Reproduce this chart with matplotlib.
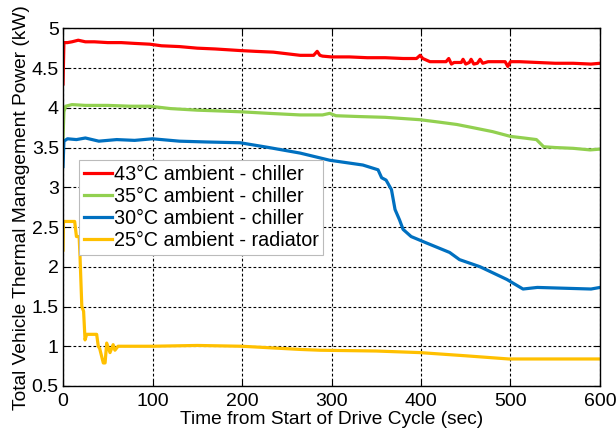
import matplotlib
matplotlib.use("Agg")
import matplotlib.pyplot as plt

plt.rcParams['font.family'] = ['Liberation Sans', 'DejaVu Sans']

# Red: 43°C ambient - chiller
t_red = [0, 1, 5, 10, 17, 25, 35, 50, 65, 80, 97, 110, 130, 150, 170, 198, 215, 235, 250,
         265, 280, 284, 287, 290, 300, 320, 340, 360, 380, 395, 399, 402, 410, 420, 428,
         431, 434, 437, 445, 447, 450, 454, 456, 459, 463, 466, 469, 475, 485, 494, 497,
         500, 510, 530, 550, 570, 590, 600]
p_red = [4.30, 4.82, 4.82, 4.83, 4.85, 4.83, 4.83, 4.82, 4.82, 4.81, 4.80, 4.78, 4.77,
         4.75, 4.74, 4.72, 4.71, 4.70, 4.68, 4.66, 4.66, 4.71, 4.66, 4.65, 4.64, 4.64,
         4.63, 4.63, 4.62, 4.62, 4.66, 4.62, 4.58, 4.58, 4.58, 4.62, 4.55, 4.57, 4.57,
         4.61, 4.55, 4.57, 4.61, 4.55, 4.56, 4.61, 4.56, 4.58, 4.58, 4.58, 4.52, 4.58,
         4.58, 4.57, 4.56, 4.56, 4.55, 4.56]

# Green: 35°C ambient - chiller
t_green = [0, 1, 3, 10, 25, 50, 75, 97, 120, 150, 175, 198, 230, 265, 290, 298, 305, 330,
           360, 399, 420, 440, 458, 480, 500, 515, 529, 537, 550, 570, 589, 600]
p_green = [3.62, 3.95, 4.02, 4.04, 4.03, 4.03, 4.02, 4.02, 3.99, 3.97, 3.96, 3.95, 3.93,
           3.91, 3.91, 3.93, 3.90, 3.89, 3.88, 3.85, 3.82, 3.79, 3.75, 3.70, 3.64, 3.62,
           3.60, 3.51, 3.50, 3.49, 3.47, 3.48]

# Blue: 30°C ambient - chiller
t_blue = [0, 1, 5, 15, 25, 40, 60, 80, 100, 130, 160, 198, 230, 265, 298, 335, 352, 356,
          361, 367, 371, 376, 380, 389, 406, 432, 443, 466, 496, 508, 514, 530, 560, 590, 600]
p_blue = [3.26, 3.58, 3.61, 3.60, 3.62, 3.58, 3.60, 3.59, 3.61, 3.58, 3.57, 3.56, 3.50,
          3.43, 3.34, 3.28, 3.22, 3.12, 3.09, 2.97, 2.72, 2.59, 2.47, 2.38, 2.30, 2.18,
          2.09, 2.00, 1.84, 1.76, 1.72, 1.74, 1.73, 1.72, 1.74]

# Yellow: 25°C ambient - radiator
t_yel = [0, 0.5, 13, 15, 18, 19, 21, 23, 24.6, 26.4, 37.6, 39.4, 41, 45, 47, 48.8, 52.5,
         56, 58, 61.5, 65, 100, 150, 200, 265, 287, 350, 399, 450, 498, 550, 600]
p_yel = [2.21, 2.57, 2.57, 2.38, 2.38, 2.13, 1.50, 1.44, 1.08, 1.15, 1.15, 1.00, 0.97,
         0.79, 0.79, 1.04, 0.92, 1.02, 0.95, 1.00, 1.00, 1.00, 1.01, 1.00, 0.96, 0.95,
         0.94, 0.92, 0.88, 0.84, 0.84, 0.84]

labels = ['43°C ambient - chiller', '35°C ambient - chiller',
          '30°C ambient - chiller', '25°C ambient - radiator']
colors = ['#FF0000', '#92D050', '#0070C0', '#FFC000']
xticks = [0, 100, 200, 300, 400, 500, 600]
yticks = [0.5, 1, 1.5, 2, 2.5, 3, 3.5, 4, 4.5, 5]
ytick_labels = ['0.5', '1', '1.5', '2', '2.5', '3', '3.5', '4', '4.5', '5']

fig = plt.figure(figsize=(6.16, 4.34), dpi=100)
ax = fig.add_axes([0.1023, 0.1106, 0.8717, 0.8242])

series = [(t_red, p_red), (t_green, p_green), (t_blue, p_blue), (t_yel, p_yel)]
for (t, p), c, lab in zip(series, colors, labels):
    ax.plot(t, p, color=c, lw=2.3, label=lab, solid_joinstyle='round')

ax.set_xlim(0, 600)
ax.set_ylim(0.5, 5)
ax.set_xticks(xticks)
ax.set_yticks(yticks)
ax.set_yticklabels(ytick_labels)
ax.tick_params(direction='in', labelsize=14, length=4, width=0.8, top=True, right=True)
ax.tick_params(axis='x', pad=5)
ax.tick_params(axis='y', pad=3)
ax.grid(True, color='black', linestyle=(0, (2.5, 2)), linewidth=0.8)
for s in ax.spines.values():
    s.set_linewidth(1.0)

ax.set_xlabel('Time from Start of Drive Cycle (sec)', fontsize=13.8, labelpad=0.5)
ax.set_ylabel('Total Vehicle Thermal Management Power (kW)', fontsize=13.8, labelpad=1)

leg = ax.legend(loc='upper left', bbox_to_anchor=(0.0298, 0.631), borderaxespad=0,
                fontsize=14.2, handlelength=1.4, handletextpad=0.1, labelspacing=0.15,
                borderpad=0.25, fancybox=False, framealpha=1, edgecolor='#BBBBBB')
leg.get_frame().set_linewidth(0.8)
leg.set_zorder(5)

fig.savefig('out.png', dpi=100)
